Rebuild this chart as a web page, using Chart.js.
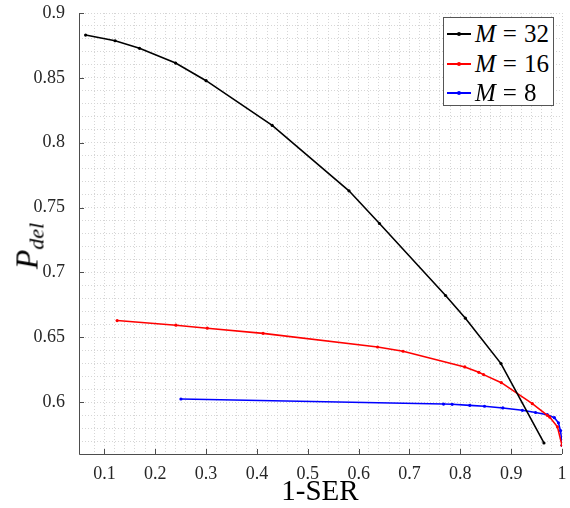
<!DOCTYPE html>
<html>
<head>
<meta charset="utf-8">
<script src="https://cdn.jsdelivr.net/npm/chart.js@4.4.0/dist/chart.umd.min.js"></script>
<style>
  html, body { margin: 0; padding: 0; background: #fff; }
  #wrap { position: relative; width: 570px; height: 508px; }
  #chPdel { position: absolute; left: 0; top: 0; }
  #yTitle {
    position: absolute; left: 29px; top: 246px;
    transform: translate(-50%, -50%) rotate(-90deg);
    font-family: "Liberation Serif", serif; font-size: 32px; color: #000;
    white-space: nowrap; line-height: 1;
  }
  #yTitle sub { font-size: 22px; vertical-align: -6px; }
  #xTitle {
    position: absolute; left: 320px; top: 490px;
    transform: translate(-50%, -50%);
    font-family: "Liberation Serif", serif; font-size: 29px; color: #000;
    white-space: nowrap; line-height: 1;
  }
  #legendBox {
    position: absolute; left: 443px; top: 17px; width: 111px; height: 89px;
    border: 1px solid #555; background: #fff; box-sizing: border-box;
    font-family: "Liberation Serif", serif; font-size: 25px; color: #000;
  }
  .lg-row { position: absolute; left: 0; height: 28px; display: flex; align-items: center; white-space: nowrap; }
  .lg-line { position: relative; width: 24px; height: 2px; margin-left: 3px; margin-right: 4px; }
  .lg-dot { position: absolute; left: 10px; top: -1px; width: 4px; height: 4px; border-radius: 2px; }
</style>
</head>
<body>
<div id="wrap">
  <canvas id="chPdel" width="570" height="508"></canvas>
  <div id="yTitle"><i>P</i><sub><i>del</i></sub></div>
  <div id="xTitle">1-SER</div>
  <div id="legendBox"></div>
</div>
<script>
// 1-SER (x) and P_del (y)
const serM32 = [0.063, 0.121, 0.169, 0.240, 0.300, 0.430, 0.581, 0.641, 0.771, 0.810, 0.880, 0.9645];
const pdelM32 = [0.883, 0.8786, 0.8728, 0.8614, 0.8478, 0.8133, 0.7629, 0.7377, 0.6822, 0.6647, 0.6297, 0.5685];

const serM16 = [0.125, 0.2406, 0.3023, 0.412, 0.6373, 0.6874, 0.8088, 0.8364, 0.8457, 0.8807, 0.9416, 0.9712, 0.9757, 0.991, 1.0];
const pdelM16 = [0.6629, 0.6593, 0.657, 0.653, 0.6425, 0.6392, 0.6271, 0.623, 0.6212, 0.615, 0.5988, 0.5898, 0.5885, 0.581, 0.5667];

const serM8 = [0.2505, 0.767, 0.784, 0.8186, 0.8476, 0.8836, 0.922, 0.948, 0.971, 0.985, 0.993, 0.997, 0.999, 1.0];
const pdelM8 = [0.6024, 0.5985, 0.5983, 0.5975, 0.5968, 0.5955, 0.5937, 0.592, 0.5903, 0.588, 0.584, 0.578, 0.572, 0.5667];

const seriesLabels = ['M = 32', 'M = 16', 'M = 8'];
const seriesColors = ['#000000', '#ff0000', '#0000ff'];

const xMajor = [0.1, 0.2, 0.3, 0.4, 0.5, 0.6, 0.7, 0.8, 0.9, 1];
const yMajor = [0.6, 0.65, 0.7, 0.75, 0.8, 0.85, 0.9];

function pts(xs, ys) {
    return xs.map((x, i) => ({ x: x, y: ys[i] }));
}

const seriesData = [pts(serM32, pdelM32), pts(serM16, pdelM16), pts(serM8, pdelM8)];

function isMajor(v, list) {
    return list.some(m => Math.abs(m - v) < 1e-6);
}

// MATLAB style: left/bottom axis lines with ticks pointing inward
const axesPlugin = {
    id: 'axesPlugin',
    afterDraw(chart) {
        const ctx = chart.ctx;
        const a = chart.chartArea;
        const xs = chart.scales.x, ys = chart.scales.y;
        ctx.save();
        ctx.strokeStyle = '#4d4d4d';
        ctx.lineWidth = 1;
        ctx.beginPath();
        ctx.moveTo(a.left + 0.5, a.top);
        ctx.lineTo(a.left + 0.5, a.bottom + 0.5);
        ctx.lineTo(a.right, a.bottom + 0.5);
        xMajor.forEach(v => {
            const px = Math.round(xs.getPixelForValue(v)) + 0.5;
            ctx.moveTo(px, a.bottom);
            ctx.lineTo(px, a.bottom - 5);
        });
        yMajor.forEach(v => {
            const py = Math.round(ys.getPixelForValue(v)) + 0.5;
            ctx.moveTo(a.left, py);
            ctx.lineTo(a.left + 5, py);
        });
        ctx.stroke();
        ctx.restore();
    }
};

Chart.defaults.font.family = "'Liberation Serif', serif";
const tickFont = { family: "'Liberation Serif', serif", size: 18 };

const chart = new Chart(document.getElementById('chPdel'), {
    type: 'scatter',
    data: {
        datasets: seriesData.map((d, i) => ({
            label: seriesLabels[i],
            data: d,
            showLine: true,
            borderColor: seriesColors[i],
            backgroundColor: seriesColors[i],
            borderWidth: 1.6,
            pointRadius: 1.6,
            pointHoverRadius: 1.6,
            pointBorderWidth: 0,
            tension: 0
        }))
    },
    options: {
        responsive: false,
        animation: false,
        devicePixelRatio: 1,
        layout: { padding: { top: 13, right: 8, left: 0, bottom: 0 } },
        plugins: { legend: { display: false }, tooltip: { enabled: false } },
        scales: {
            x: {
                type: 'linear', min: 0.05, max: 1,
                afterFit: s => { s.height = 54; s.paddingLeft = 0; s.paddingRight = 0; },
                grid: { color: '#d6d6d6', lineWidth: 1, drawTicks: false },
                border: { display: false, dash: [1, 2] },
                ticks: {
                    stepSize: 0.02, autoSkip: false, maxRotation: 0, padding: 9,
                    color: '#262626', font: tickFont,
                    callback: v => isMajor(v, xMajor) ? (Math.abs(v - 1) < 1e-6 ? '1' : v.toFixed(1)) : ''
                }
            },
            y: {
                type: 'linear', min: 0.56, max: 0.9,
                afterFit: s => { s.width = 79; s.paddingTop = 0; s.paddingBottom = 0; },
                grid: { color: '#d6d6d6', lineWidth: 1, drawTicks: false },
                border: { display: false, dash: [1, 2] },
                ticks: {
                    stepSize: 0.01, autoSkip: false, padding: 14,
                    color: '#262626', font: tickFont,
                    callback: v => isMajor(v, yMajor) ? String(parseFloat(v.toFixed(2))) : ''
                }
            }
        }
    },
    plugins: [axesPlugin]
});

// legend drawn as html, built from the datasets
const box = document.getElementById('legendBox');
chart.data.datasets.forEach((ds, i) => {
    const row = document.createElement('div');
    row.className = 'lg-row';
    row.style.top = (2 + i * 29.5) + 'px';
    const parts = ds.label.split(' = ');
    row.innerHTML =
        '<span class="lg-line" style="background:' + ds.borderColor + '">' +
        '<span class="lg-dot" style="background:' + ds.borderColor + '"></span></span>' +
        '<i>' + parts[0] + '</i><span style="margin:0 7px">=</span>' + parts[1];
    box.appendChild(row);
});
</script>
</body>
</html>
